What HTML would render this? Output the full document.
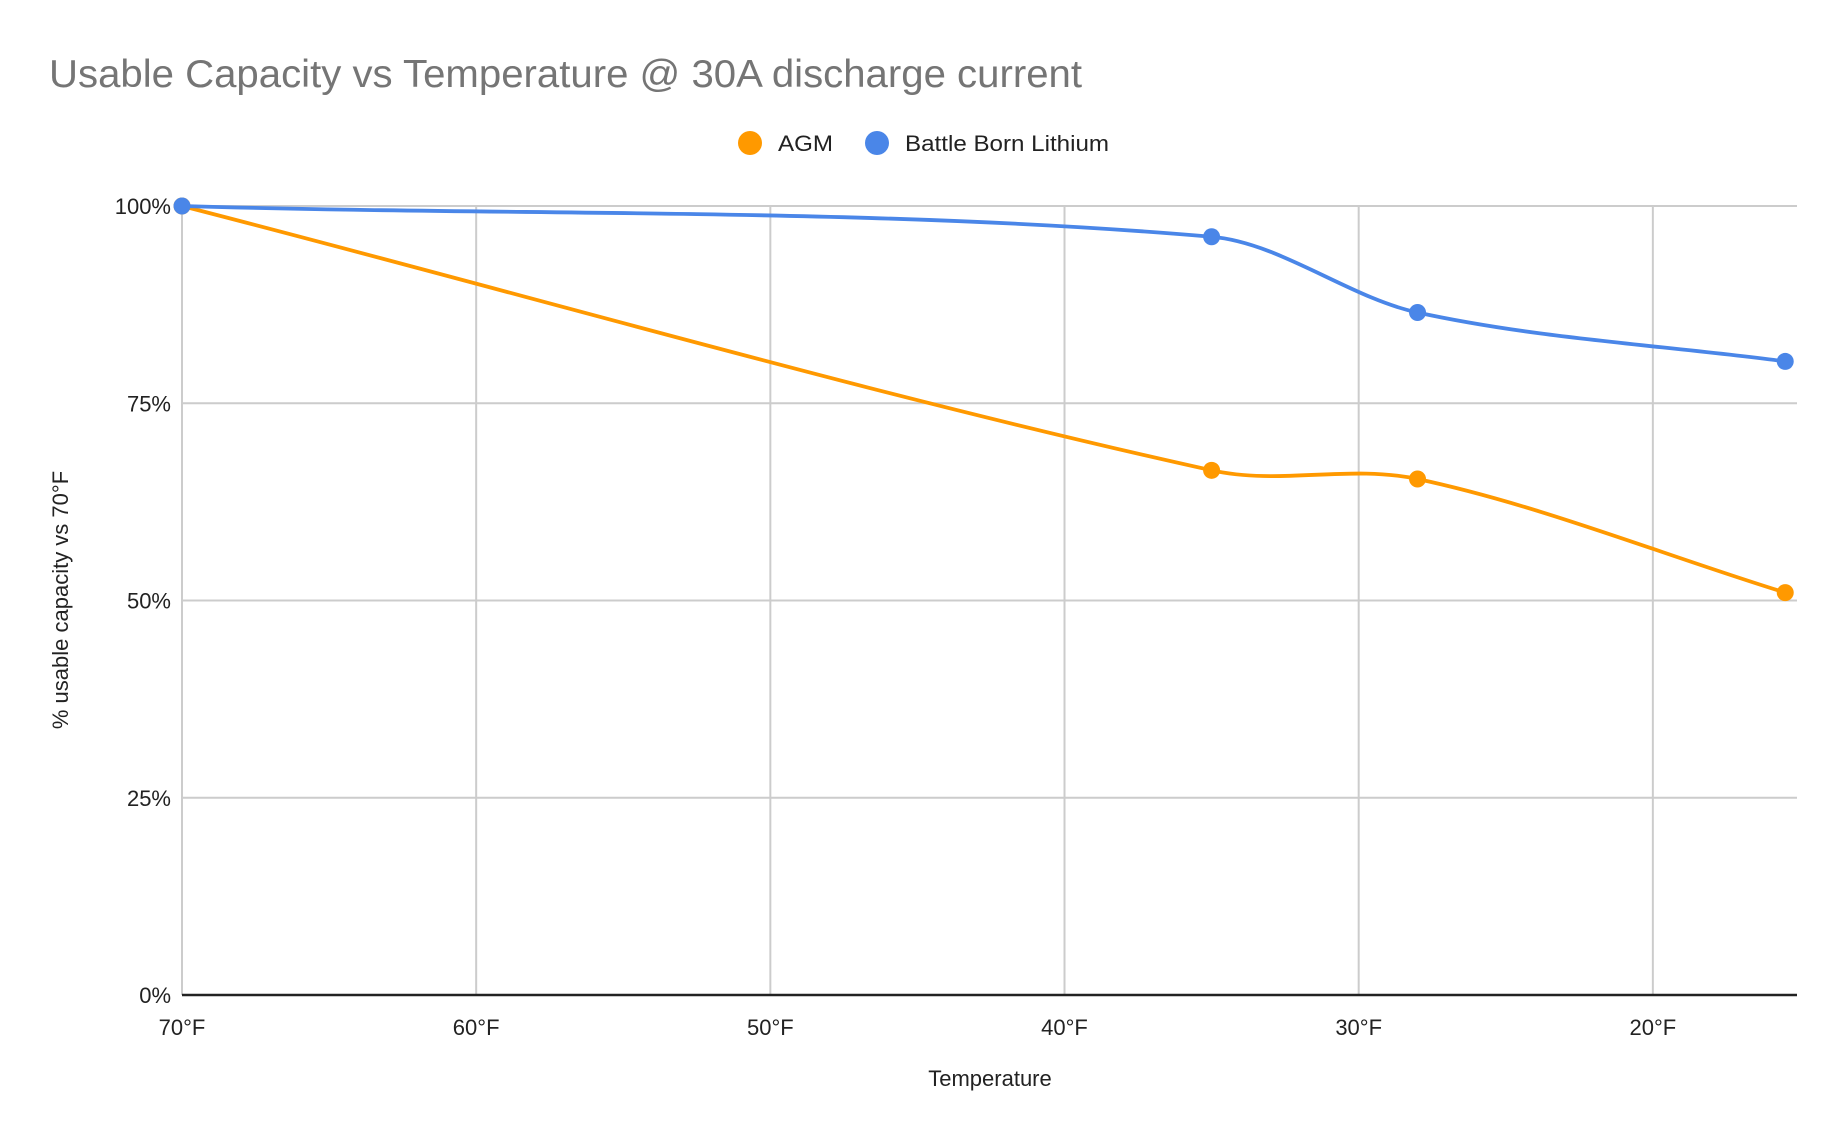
<!DOCTYPE html>
<html><head><meta charset="utf-8"><style>
html,body{margin:0;padding:0;background:#fff;}
svg{display:block;font-family:"Liberation Sans",Arial,sans-serif;}
</style></head><body>
<svg id="chart" width="1844" height="1140" viewBox="0 0 1844 1140">
<text x="49" y="87" font-size="39" fill="#757575" textLength="1033" lengthAdjust="spacingAndGlyphs">Usable Capacity vs Temperature @ 30A discharge current</text>
<g>
<g><circle cx="750" cy="143" r="12" fill="#ff9900"/><text x="778" y="151" font-size="22" fill="#222" textLength="55" lengthAdjust="spacingAndGlyphs">AGM</text></g>
<g><circle cx="877" cy="143" r="12" fill="#4a86e8"/><text x="905" y="151" font-size="22" fill="#222" textLength="204" lengthAdjust="spacingAndGlyphs">Battle Born Lithium</text></g>
</g>
<g id="grid"></g>
<g id="yticks"></g>
<g id="xticks"></g>
<g id="series"></g>
<text x="990" y="1086" font-size="22" text-anchor="middle" fill="#222">Temperature</text>
<text transform="translate(68,600) rotate(-90)" font-size="22" text-anchor="middle" fill="#222">% usable capacity vs 70°F</text>
</svg>
<script>
const temps = [70, 35, 28, 15.5];
const agmValues = [100, 66.5, 65.4, 51.0];
const lithiumValues = [100, 96.1, 86.5, 80.3];
const yTickValues = [0, 25, 50, 75, 100];
const yTickLabels = ["0%", "25%", "50%", "75%", "100%"];
const xTickValues = [70, 60, 50, 40, 30, 20];
const xTickLabels = ["70°F", "60°F", "50°F", "40°F", "30°F", "20°F"];

const NS = "http://www.w3.org/2000/svg";
const L = 182, R = 1797, T = 206, B = 995;
const xMax = 70, xMin = 15.1;
function xs(t){ return L + (xMax - t) / (xMax - xMin) * (R - L); }
function ys(v){ return B - v / 100 * (B - T); }
function mk(tag, attrs, parent){ const e = document.createElementNS(NS, tag); for (const k in attrs) e.setAttribute(k, attrs[k]); parent.appendChild(e); return e; }

const grid = document.getElementById('grid');
const yt = document.getElementById('yticks');
const xt = document.getElementById('xticks');
yTickValues.forEach((v, i) => {
  if (v > 0) {
    const ln = mk('line', {x1: L, x2: R, y1: ys(v), y2: ys(v), stroke: '#cccccc', 'stroke-width': 2}, grid);
    
    
  }
  const t = mk('text', {x: 171, y: ys(v) + 8, 'font-size': 22, 'text-anchor': 'end', fill: '#222'}, yt);
  t.textContent = yTickLabels[i];
  
  
});
xTickValues.forEach((v, i) => {
  const ln = mk('line', {x1: xs(v), x2: xs(v), y1: T, y2: B, stroke: '#cccccc', 'stroke-width': 2}, grid);
  
  
  const t = mk('text', {x: xs(v), y: 1035, 'font-size': 22, 'text-anchor': 'middle', fill: '#222'}, xt);
  t.textContent = xTickLabels[i];
  
  
});
const ax = mk('line', {x1: L, x2: R, y1: B, y2: B, stroke: '#222', 'stroke-width': 2.5}, grid);



function smoothPath(pts){
  const n = pts.length;
  const m = pts.map((p, i) => {
    if (i === 0) return (pts[1][1] - p[1]) / (pts[1][0] - p[0]);
    if (i === n - 1) return (p[1] - pts[i-1][1]) / (p[0] - pts[i-1][0]);
    return (pts[i+1][1] - pts[i-1][1]) / (pts[i+1][0] - pts[i-1][0]);
  });
  let d = `M${pts[0][0]},${pts[0][1]}`;
  for (let i = 0; i < n - 1; i++) {
    const p1 = pts[i], p2 = pts[i+1], dx = (p2[0] - p1[0]) / 3;
    d += ` C${p1[0]+dx},${p1[1]+m[i]*dx} ${p2[0]-dx},${p2[1]-m[i+1]*dx} ${p2[0]},${p2[1]}`;
  }
  return d;
}
const ser = document.getElementById('series');
function drawSeries(vals, color, name){
  const g = mk('g', {}, ser);
  
  
  const pts = temps.map((t, i) => [xs(t), ys(vals[i])]);
  const p = mk('path', {d: smoothPath(pts), fill: 'none', stroke: color, 'stroke-width': 3.8, 'stroke-linejoin': 'round'}, g);
  
  
  pts.forEach(pt => {
    const c = mk('circle', {cx: pt[0], cy: pt[1], r: 8.5, fill: color}, g);
    
    
  });
}
drawSeries(agmValues, '#ff9900', 'agm');
drawSeries(lithiumValues, '#4a86e8', 'lithium');
</script>
</body></html>
